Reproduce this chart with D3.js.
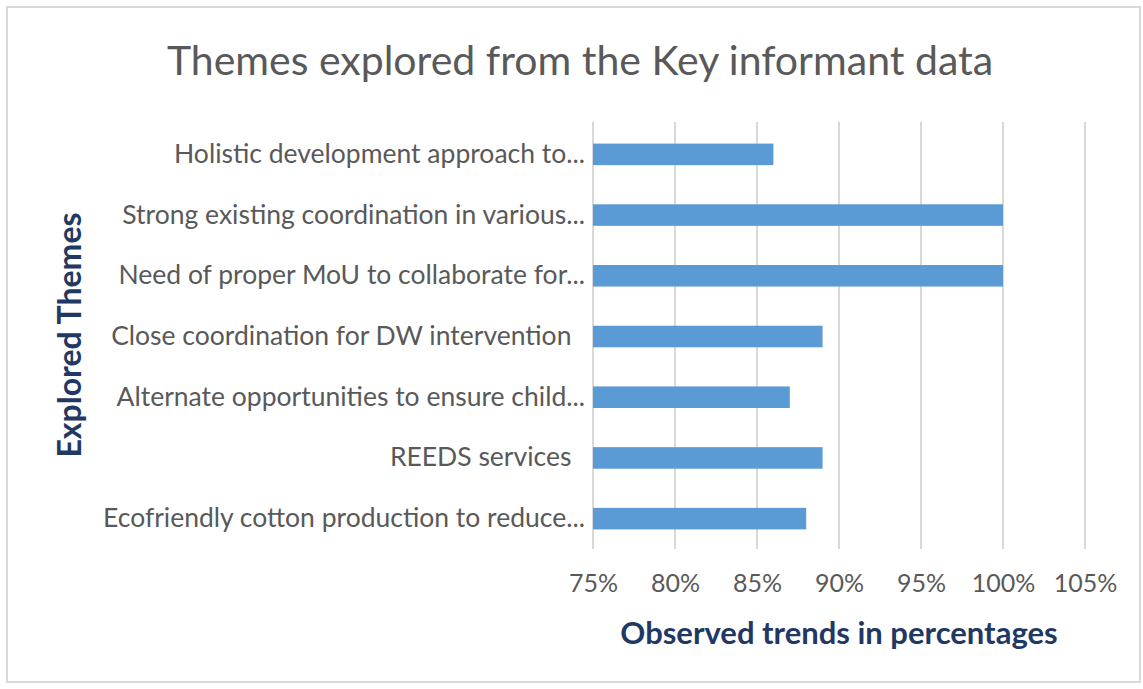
<!DOCTYPE html>
<html>
<head>
<meta charset="utf-8">
<script src="https://cdn.jsdelivr.net/npm/d3@7"></script>
<style>
  html, body { margin: 0; padding: 0; background: #fff; }
  svg { display: block; font-family: Lato, "Open Sans", sans-serif; }
</style>
</head>
<body>
<svg id="chart" width="1143" height="689"></svg>
<script>
// Themes from the key informant interviews, top to bottom
const themes = [
  "Holistic development approach to...",
  "Strong existing coordination in various...",
  "Need of proper MoU to collaborate for...",
  "Close coordination for DW intervention\u00a0\u00a0",
  "Alternate opportunities to ensure child...",
  "REEDS services\u00a0\u00a0",
  "Ecofriendly cotton production to reduce..."
];
// Share of informants reporting each theme (%)
const percentages = [86, 100, 100, 89, 87, 89, 88];
// Horizontal axis ticks (%)
const xTicks = [75, 80, 85, 90, 95, 100, 105];

const svg = d3.select("#chart");
const W = 1143, H = 689;
const plot = { left: 593, right: 1085, top: 124, bottom: 549 };

// outer chart frame
svg.append("rect")
  .attr("x", 7).attr("y", 7)
  .attr("width", W - 10).attr("height", H - 14)
  .attr("fill", "#fff")
  .attr("stroke", "#d9d9d9").attr("stroke-width", 2);

const x = d3.scaleLinear().domain([75, 105]).range([plot.left, plot.right]);
const y = d3.scaleBand().domain(themes).range([plot.top, plot.bottom]).paddingInner(0.645).paddingOuter(0.3225);

// vertical gridlines
svg.append("g")
  .selectAll("line")
  .data(xTicks)
  .join("line")
  .attr("x1", d => x(d)).attr("x2", d => x(d))
  .attr("y1", plot.top - 2).attr("y2", plot.bottom)
  .attr("stroke", "#d9d9d9").attr("stroke-width", 2);

// bars
svg.append("g")
  .selectAll("rect")
  .data(percentages)
  .join("rect")
  .attr("x", x(75))
  .attr("y", (d, i) => y(themes[i]))
  .attr("width", d => x(d) - x(75))
  .attr("height", y.bandwidth())
  .attr("fill", "#5b9bd5");

// x axis tick labels
const xAxis = d3.axisBottom(x)
  .tickValues(xTicks)
  .tickFormat(d => d + "%")
  .tickSize(0)
  .tickPadding(0);
const gx = svg.append("g")
  .attr("transform", `translate(0,${plot.bottom + 25})`)
  .call(xAxis);
gx.select(".domain").remove();
gx.selectAll("text")
  .attr("font-family", "Lato, sans-serif")
  .attr("font-size", 25)
  .attr("fill", "#595959")
  .attr("dy", "0.71em");

// y axis category labels
const yAxis = d3.axisLeft(y).tickSize(0).tickPadding(8);
const gy = svg.append("g")
  .attr("transform", `translate(${plot.left},0)`)
  .call(yAxis);
gy.select(".domain").remove();
gy.selectAll("text")
  .attr("font-family", "Lato, sans-serif")
  .attr("font-size", 26.5)
  .attr("fill", "#595959");

// title
svg.append("text")
  .attr("x", 580).attr("y", 75)
  .attr("text-anchor", "middle")
  .attr("font-size", 41)
  .attr("fill", "#595959")
  .text("Themes explored from the Key informant data");

// axis titles
svg.append("text")
  .attr("x", 839).attr("y", 644)
  .attr("text-anchor", "middle")
  .attr("font-size", 31)
  .attr("font-weight", "bold")
  .attr("fill", "#1f3864")
  .text("Observed trends in percentages");

svg.append("text")
  .attr("transform", "translate(81,335) rotate(-90)")
  .attr("text-anchor", "middle")
  .attr("font-size", 32)
  .attr("font-weight", "bold")
  .attr("fill", "#1f3864")
  .text("Explored Themes");
</script>
</body>
</html>
